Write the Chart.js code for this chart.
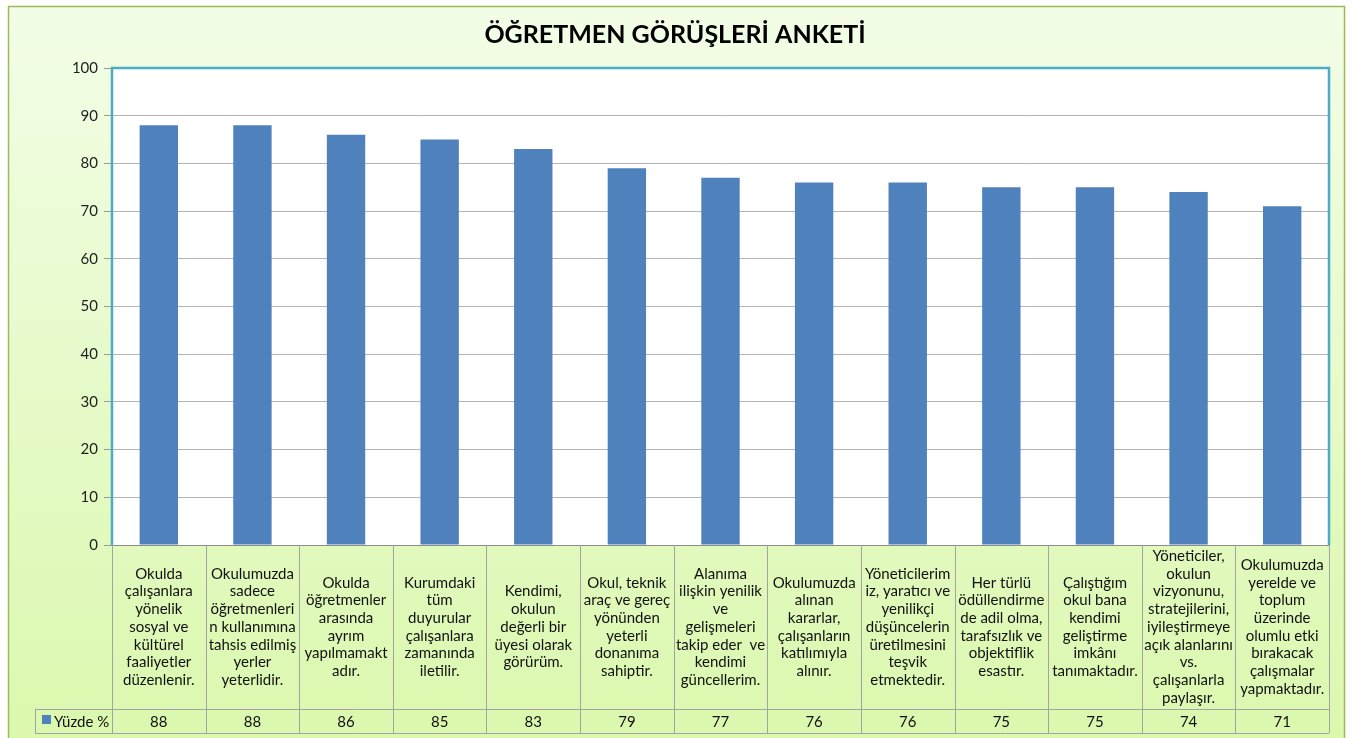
<!DOCTYPE html>
<html>
<head>
<meta charset="utf-8">
<script src="https://cdn.jsdelivr.net/npm/chart.js@4.4.1/dist/chart.umd.min.js"></script>
<style>
html,body{margin:0;padding:0;background:#fff;}
#wrap{width:1354px;height:738px;position:relative;}
</style>
</head>
<body>
<div id="wrap"><canvas id="c"></canvas></div>
<script>
const chartTitle = "ÖĞRETMEN GÖRÜŞLERİ ANKETİ";
const seriesName = "Yüzde %";
const categories = [
  ["Okulda","çalışanlara","yönelik","sosyal ve","kültürel","faaliyetler","düzenlenir."],
  ["Okulumuzda","sadece","öğretmenleri","n kullanımına","tahsis edilmiş","yerler","yeterlidir."],
  ["Okulda","öğretmenler","arasında","ayrım","yapılmamakt","adır."],
  ["Kurumdaki","tüm","duyurular","çalışanlara","zamanında","iletilir."],
  ["Kendimi,","okulun","değerli bir","üyesi olarak","görürüm."],
  ["Okul, teknik","araç ve gereç","yönünden","yeterli","donanıma","sahiptir."],
  ["Alanıma","ilişkin yenilik","ve","gelişmeleri","takip eder  ve","kendimi","güncellerim."],
  ["Okulumuzda","alınan","kararlar,","çalışanların","katılımıyla","alınır."],
  ["Yöneticilerim","iz, yaratıcı ve","yenilikçi","düşüncelerin","üretilmesini","teşvik","etmektedir."],
  ["Her türlü","ödüllendirme","de adil olma,","tarafsızlık ve","objektiflik","esastır."],
  ["Çalıştığım","okul bana","kendimi","geliştirme","imkânı","tanımaktadır."],
  ["Yöneticiler,","okulun","vizyonunu,","stratejilerini,","iyileştirmeye","açık alanlarını","vs.","çalışanlarla","paylaşır."],
  ["Okulumuzda","yerelde ve","toplum","üzerinde","olumlu etki","bırakacak","çalışmalar","yapmaktadır."]
];
const values = [88, 88, 86, 85, 83, 79, 77, 76, 76, 75, 75, 74, 71];
const yTicks = [0,10,20,30,40,50,60,70,80,90,100];

const FONT = "Lato, 'Open Sans', sans-serif";
const BAR = "#4f81bd";
const LINE = "#a3a3a3";

const framePlugin = {
  id: 'frame',
  beforeDraw(chart) {
    const ctx = chart.ctx;
    ctx.save();
    ctx.fillStyle = '#ffffff';
    ctx.fillRect(0, 0, chart.width, chart.height);
    const g = ctx.createLinearGradient(0, 6, 0, 738);
    g.addColorStop(0, '#f3fde7');
    g.addColorStop(1, '#dbf8ae');
    ctx.fillStyle = g;
    ctx.fillRect(8, 6, 1337, 740);
    ctx.strokeStyle = '#9bbb59';
    ctx.lineWidth = 1.5;
    ctx.strokeRect(8.5, 6.5, 1336, 745);
    const a = chart.chartArea;
    ctx.fillStyle = '#ffffff';
    ctx.fillRect(a.left, a.top, a.right - a.left, a.bottom - a.top);
    ctx.fillStyle = '#000';
    ctx.font = "bold 25px " + FONT;
    ctx.textAlign = 'center';
    ctx.textBaseline = 'middle';
    ctx.fillText(chartTitle, 675, 35);
    ctx.restore();
  },
  afterDraw(chart) {
    const ctx = chart.ctx;
    const a = chart.chartArea;
    const xs = chart.scales.x;
    ctx.save();
    ctx.strokeStyle = '#4bacc6';
    ctx.lineWidth = 2.5;
    ctx.beginPath();
    ctx.moveTo(a.left, a.bottom);
    ctx.lineTo(a.left, a.top);
    ctx.lineTo(a.right, a.top);
    ctx.lineTo(a.right, a.bottom);
    ctx.stroke();
    const n = values.length;
    const step = xs.getPixelForValue(1) - xs.getPixelForValue(0);
    const top = a.bottom;
    const rowY = 709;
    const bottom = 733;
    const leftCol = 35;
    ctx.strokeStyle = LINE;
    ctx.lineWidth = 1;
    ctx.beginPath();
    for (let i = 0; i <= n; i++) {
      const x = Math.round(xs.getPixelForValue(0) - step / 2 + i * step) + 0.5;
      ctx.moveTo(x, top);
      ctx.lineTo(x, bottom);
    }
    ctx.moveTo(leftCol + 0.5, rowY);
    ctx.lineTo(leftCol + 0.5, bottom);
    ctx.moveTo(leftCol, rowY + 0.5);
    ctx.lineTo(a.right, rowY + 0.5);
    ctx.moveTo(leftCol, bottom + 0.5);
    ctx.lineTo(a.right, bottom + 0.5);
    ctx.stroke();
    ctx.fillStyle = '#111';
    ctx.font = "15px " + FONT;
    ctx.textAlign = 'center';
    ctx.textBaseline = 'middle';
    const lh = 17.7;
    for (let i = 0; i < n; i++) {
      const cx = xs.getPixelForValue(i);
      const lines = categories[i];
      const mid = (top + rowY) / 2;
      const y0 = mid - (lines.length - 1) * lh / 2;
      lines.forEach((t, k) => ctx.fillText(t, cx, y0 + k * lh));
      ctx.fillText(String(values[i]), cx, (rowY + bottom) / 2 + 1);
    }
    ctx.fillStyle = BAR;
    ctx.fillRect(42, 715, 9, 9);
    ctx.fillStyle = '#111';
    ctx.textAlign = 'left';
    ctx.fillText(seriesName, 54, (rowY + bottom) / 2 + 1);
    ctx.restore();
  }
};

new Chart(document.getElementById('c'), {
  type: 'bar',
  data: {
    labels: categories,
    datasets: [{
      label: seriesName,
      data: values,
      backgroundColor: BAR,
      borderWidth: 0,
      barPercentage: 0.41,
      categoryPercentage: 1.0
    }]
  },
  options: {
    responsive: true,
    maintainAspectRatio: false,
    animation: false,
    layout: { padding: { top: 68, right: 25, bottom: 5, left: 0 } },
    plugins: { legend: { display: false }, title: { display: false }, tooltip: { enabled: false } },
    scales: {
      x: {
        ticks: { display: false },
        grid: { display: false },
        border: { display: true, color: '#8c8c8c', width: 1 },
        afterFit(s) { s.height = 188; }
      },
      y: {
        min: 0, max: 100,
        afterBuildTicks(s) { s.ticks = yTicks.map(v => ({ value: v })); },
        ticks: { color: '#1f1f1f', font: { family: FONT, size: 15 }, padding: 6 },
        grid: { color: '#b4b4b4', tickLength: 8, tickColor: '#9a9a9a' },
        border: { display: false },
        afterFit(s) { s.width = 112; }
      }
    }
  },
  plugins: [framePlugin]
});
</script>
</body>
</html>
